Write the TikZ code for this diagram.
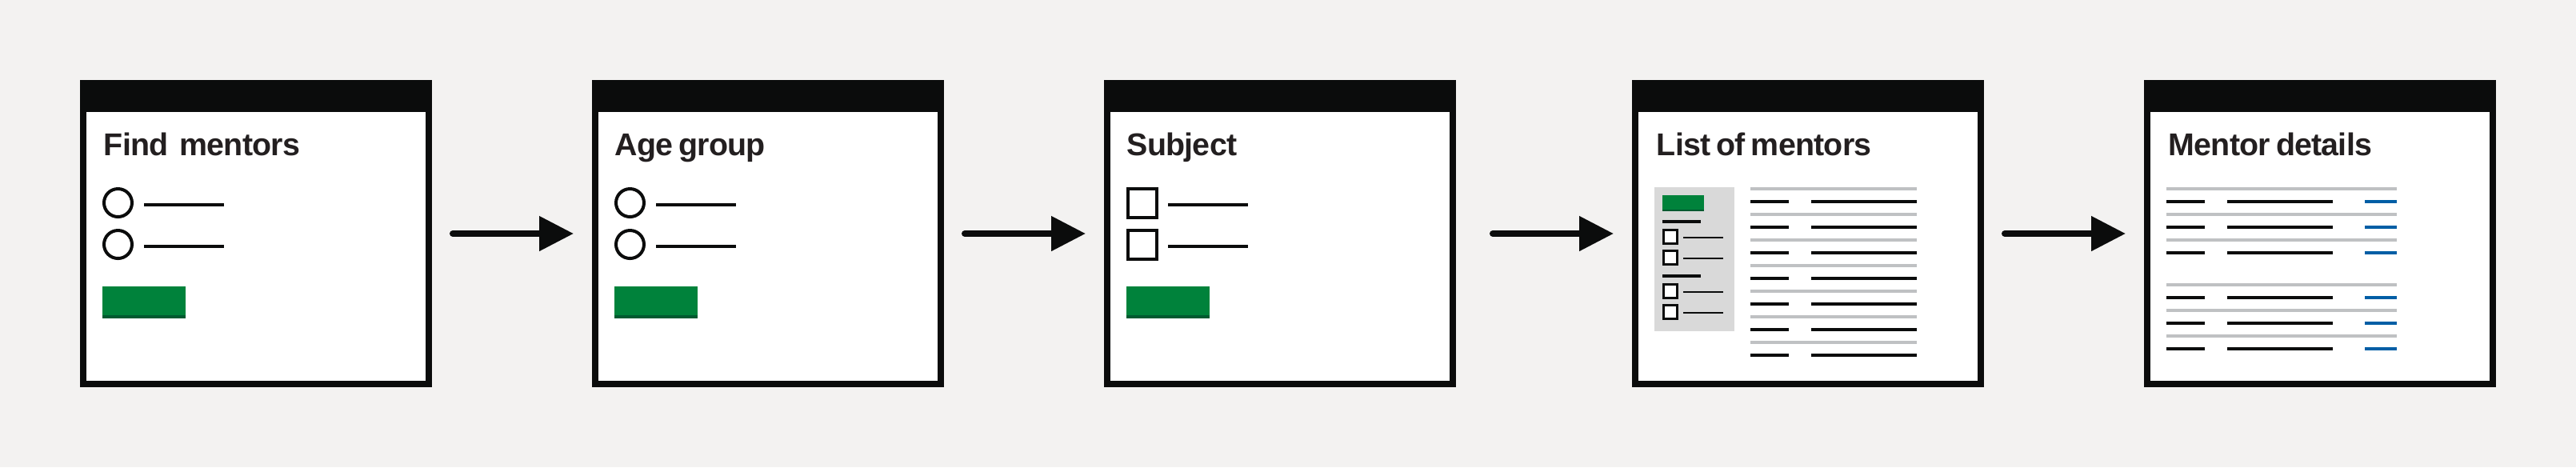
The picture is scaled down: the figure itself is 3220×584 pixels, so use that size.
\documentclass[tikz,border=0pt]{standalone}
\usepackage{fontspec}
\setmainfont[LetterSpace=-2.0, WordSpace=0.7]{Liberation Sans}
\usetikzlibrary{calc,arrows.meta}

\definecolor{pagebg}{HTML}{F3F2F1}
\definecolor{ink}{HTML}{0B0C0C}
\definecolor{headink}{HTML}{231F20}
\definecolor{govgreen}{HTML}{00823B}
\definecolor{darkgreen}{HTML}{005A30}
\definecolor{rulegrey}{HTML}{BFC1C3}
\definecolor{panelgrey}{HTML}{D9D9D9}
\definecolor{linkblue}{HTML}{005EA5}

\tikzset{
	screen/.style={draw=ink, line width=0.8mm, fill=white, minimum width=43.2mm, minimum height=37.6mm, inner sep=0pt, anchor=north west},
	heading/.style={anchor=base west, inner sep=0pt, text=headink, font=\bfseries\fontsize{11.2}{13}\selectfont},
	flowarrow/.style={draw=ink, line width=0.8mm, line cap=round, shorten <=2.6mm, shorten >=2.3mm, -{Triangle[length=4.3mm,width=4.2mm]}},
}
\def\topbar(#1){\fill[ink] (#1.north west) rectangle ($(#1.north east)+(0,40)$);}

\begin{document}
\begin{tikzpicture}[x=0.1mm, y=-0.1mm]
			%%%%% PAGE %%%%%
			\fill[pagebg] (0, 0) rectangle (3220, 584);
			
			\node[screen] (f1) at (100, 100) {};
			\node[screen] (f2) at (740, 100) {};
			\node[screen] (f3) at (1380, 100) {};
			\node[screen] (f4) at (2040, 100) {};
			\node[screen] (f5) at (2680, 100) {};
			\topbar(f1) \topbar(f2) \topbar(f3) \topbar(f4) \topbar(f5)
			
			%%%%% FIND MENTORS %%%%%
			\begin{scope}[shift={(f1.north west)}]
				\node[heading] (t1) at (29, 94) {Find\hspace{0.7mm} mentors};
				\foreach \y in {153.5, 205.5} {
					\draw[line width=0.4mm, color=ink] (47.5, \y) circle[radius=1.75mm];
					\draw[line width=0.4mm, color=ink] (80, \y+2) -- (180, \y+2);
				}
				\fill[govgreen] (28, 258) rectangle (132, 298);
				\fill[darkgreen] (28, 294) rectangle (132, 298);
			\end{scope}
			
			%%%%% AGE GROUP %%%%%
			\begin{scope}[shift={(f2.north west)}]
				\node[heading] (t2) at (28, 94) {Age group};
				\foreach \y in {153.5, 205.5} {
					\draw[line width=0.4mm, color=ink] (47.5, \y) circle[radius=1.75mm];
					\draw[line width=0.4mm, color=ink] (80, \y+2) -- (180, \y+2);
				}
				\fill[govgreen] (28, 258) rectangle (132, 298);
				\fill[darkgreen] (28, 294) rectangle (132, 298);
			\end{scope}
			
			%%%%% SUBJECT %%%%%
			\begin{scope}[shift={(f3.north west)}]
				\node[heading] (t3) at (28, 94) {Subject};
				\foreach \y in {134, 186} {
					\draw[line width=0.4mm, color=ink] (30, \y+2) rectangle (66, \y+38);
					\draw[line width=0.4mm, color=ink] (80, \y+21.7) -- (180, \y+21.7);
				}
				\fill[govgreen] (28, 258) rectangle (132, 298);
				\fill[darkgreen] (28, 294) rectangle (132, 298);
			\end{scope}
			
			%%%%% LIST OF MENTORS %%%%%
			\begin{scope}[shift={(f4.north west)}]
				\node[heading] (t4) at (30, 94) {List of mentors};
				\fill[panelgrey] (28, 134) rectangle (128, 314);
				\fill[govgreen] (38, 144) rectangle (90, 164);
				\fill[darkgreen] (38, 162) rectangle (90, 164);
				\foreach \y in {177, 245}
					\draw[line width=0.4mm, color=ink] (38, \y) -- (86, \y);
				\foreach \y in {186, 212, 254, 280} {
					\draw[line width=0.3mm, color=ink, fill=white] (39.5, \y+1.5) rectangle (56.5, \y+18.5);
					\draw[line width=0.2mm, color=ink] (64, \y+11) -- (114, \y+11);
				}
				\foreach \k in {0,...,6} {
					\draw[line width=0.4mm, color=rulegrey] (148, {135.7+32*\k}) -- (356, {135.7+32*\k});
					\draw[line width=0.4mm, color=ink] (148, {152+32*\k}) -- (196, {152+32*\k});
					\draw[line width=0.4mm, color=ink] (224, {152+32*\k}) -- (356, {152+32*\k});
				}
			\end{scope}
			
			%%%%% MENTOR DETAILS %%%%%
			\begin{scope}[shift={(f5.north west)}]
				\node[heading] (t5) at (30, 94) {Mentor details};
				\foreach \y in {135.7, 167.7, 199.7, 255.7, 287.7, 319.7}
					\draw[line width=0.4mm, color=rulegrey] (28, \y) -- (316, \y);
				\foreach \y in {152, 184, 216, 272, 304, 336} {
					\draw[line width=0.4mm, color=ink] (28, \y) -- (76, \y);
					\draw[line width=0.4mm, color=ink] (104, \y) -- (236, \y);
					\draw[line width=0.4mm, color=linkblue] (276, \y) -- (316, \y);
				}
			\end{scope}
			
			%%%%% ARROWS %%%%%
			\draw[flowarrow] (f1) -- (f2);
			\draw[flowarrow] (f2) -- (f3);
			\draw[flowarrow, shorten <=4.6mm] (f3) -- (f4);
			\draw[flowarrow] (f4) -- (f5);
			
		\end{tikzpicture}
\end{document}
